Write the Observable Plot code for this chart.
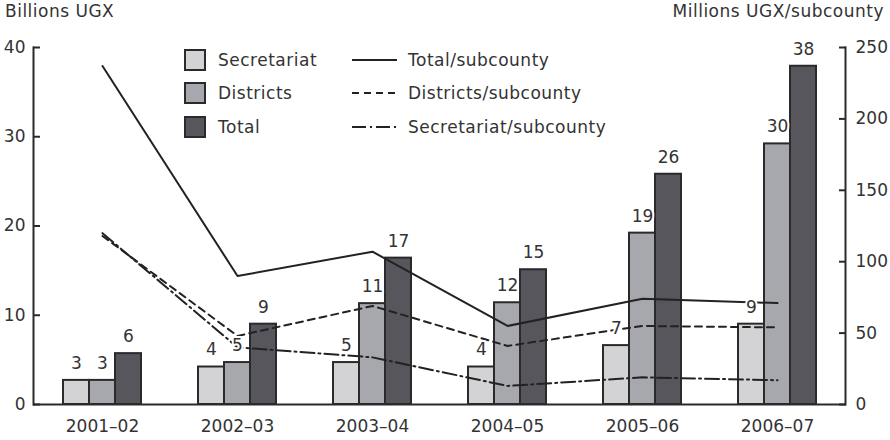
<!DOCTYPE html>
<html><head><meta charset="utf-8">
<script src="https://cdn.jsdelivr.net/npm/d3@7"></script>
<script src="https://cdn.jsdelivr.net/npm/@observablehq/plot@0.6"></script>
<style>
body{margin:0;background:#fff;font-family:"DejaVu Sans",sans-serif;color:#333}
#wrap{position:relative;width:890px;height:440px;overflow:hidden}
.ttl{position:absolute;top:0px;font-size:17px;line-height:22px;white-space:nowrap;letter-spacing:0.5px}
#legend{position:absolute;left:0;top:0}
</style></head><body><div id="wrap"></div>
<script>
const years = ["2001–02", "2002–03", "2003–04", "2004–05", "2005–06", "2006–07"];
// Billions UGX (bars)
const secretariat = [2.7, 4.2, 4.7, 4.2, 6.6, 9.0];
const districts = [2.7, 4.7, 11.3, 11.4, 19.2, 29.2];
const total = [5.7, 9.0, 16.4, 15.1, 25.8, 37.9];
const secretariatLabels = [3, 4, 5, 4, 7, 9];
const districtsLabels = [3, 5, 11, 12, 19, 30];
const totalLabels = [6, 9, 17, 15, 26, 38];
// Millions UGX per subcounty (lines, right axis)
const totalPerSub = [237, 90, 107, 55, 74, 71];
const districtsPerSub = [118, 48, 69, 41, 55, 54];
const secretariatPerSub = [120, 40, 33, 13, 19, 17];
const leftTicks = [0, 10, 20, 30, 40];
const rightTicks = [0, 50, 100, 150, 200, 250];
const seriesNames = ["Secretariat", "Districts", "Total"];
const lineNames = ["Total/subcounty", "Districts/subcounty", "Secretariat/subcounty"];

const k = 250 / 40; // right axis units per left axis unit
const colors = ["#d3d3d5", "#a7a7ae", "#56565c"];
const dashes = [null, "7,5", "14,4,2,4"];
const barStroke = "#2a2a2a";
const textColor = "#333";
const font = "'DejaVu Sans', sans-serif";

const barSets = [secretariat, districts, total];
const labelSets = [secretariatLabels, districtsLabels, totalLabels];
const lineSets = [totalPerSub, districtsPerSub, secretariatPerSub];
const offsets = [-26, 0, 26];

const marks = [];
barSets.forEach((vals, s) => {
  const rows = years.map((y, i) => ({year: y, v: vals[i]}));
  marks.push(Plot.barY(rows, {x: "year", y: "v", dx: offsets[s], fill: colors[s], stroke: barStroke, strokeWidth: 2}));
});
lineSets.forEach((vals, s) => {
  const rows = years.map((y, i) => ({year: y, v: vals[i] / k}));
  marks.push(Plot.line(rows, {x: "year", y: "v", stroke: "#222", strokeWidth: 2, strokeDasharray: dashes[s]}));
});
labelSets.forEach((labs, s) => {
  const rows = years.map((y, i) => ({year: y, v: barSets[s][i], t: labs[i]}));
  marks.push(Plot.text(rows, {x: "year", y: "v", text: "t", dx: offsets[s], dy: -17, fill: textColor, fontSize: 17, stroke: "white", strokeWidth: 4, paintOrder: "stroke"}));
});
marks.push(Plot.ruleY([0], {stroke: "#2a2a2a", strokeWidth: 2}));
marks.push(Plot.frame({anchor: "left", stroke: "#2a2a2a", strokeWidth: 2}));
marks.push(Plot.frame({anchor: "right", stroke: "#2a2a2a", strokeWidth: 2}));
marks.push(Plot.axisX({tickSize: 0, tickPadding: 15, label: null, fontSize: 17, fill: textColor}));
marks.push(Plot.axisY({anchor: "left", ticks: leftTicks, tickSize: -7, tickPadding: 15, label: null, fontSize: 17, fill: textColor, stroke: "#2a2a2a", strokeWidth: 2}));
marks.push(Plot.axisY({anchor: "right", ticks: rightTicks.map(d => d / k), tickFormat: d => Math.round(d * k), tickSize: -7, tickPadding: 17, label: null, fontSize: 17, fill: textColor, stroke: "#2a2a2a", strokeWidth: 2}));

const plot = Plot.plot({
  width: 890, height: 440,
  marginLeft: 33, marginRight: 45, marginTop: 47, marginBottom: 36,
  style: {fontFamily: font, fontSize: "17px", color: textColor, background: "white"},
  x: {domain: years, paddingInner: 0.808, paddingOuter: 0.404},
  y: {domain: [0, 40]},
  marks
});
const wrap = document.getElementById("wrap");
wrap.appendChild(plot);

const t1 = document.createElement("div");
t1.className = "ttl"; t1.style.left = "5px"; t1.textContent = "Billions UGX";
wrap.appendChild(t1);
const t2 = document.createElement("div");
t2.className = "ttl"; t2.style.right = "6px"; t2.textContent = "Millions UGX/subcounty";
wrap.appendChild(t2);

// legend overlay
const lg = d3.select(wrap).append("svg").attr("id", "legend").attr("width", 890).attr("height", 160)
  .style("font-family", font).style("font-size", "17px").style("letter-spacing", "0.5px");
const rowY = [60, 93, 127];
seriesNames.forEach((n, i) => {
  lg.append("rect").attr("x", 185).attr("y", rowY[i] - 10).attr("width", 20).attr("height", 20)
    .attr("fill", colors[i]).attr("stroke", barStroke).attr("stroke-width", 2);
  lg.append("text").attr("x", 218).attr("y", rowY[i]).attr("dy", "0.35em").attr("fill", textColor).text(n);
});
lineNames.forEach((n, i) => {
  lg.append("line").attr("x1", 352).attr("x2", 397).attr("y1", rowY[i]).attr("y2", rowY[i])
    .attr("stroke", "#222").attr("stroke-width", 2).attr("stroke-dasharray", dashes[i]);
  lg.append("text").attr("x", 408).attr("y", rowY[i]).attr("dy", "0.35em").attr("fill", textColor).text(n);
});
</script></body></html>
